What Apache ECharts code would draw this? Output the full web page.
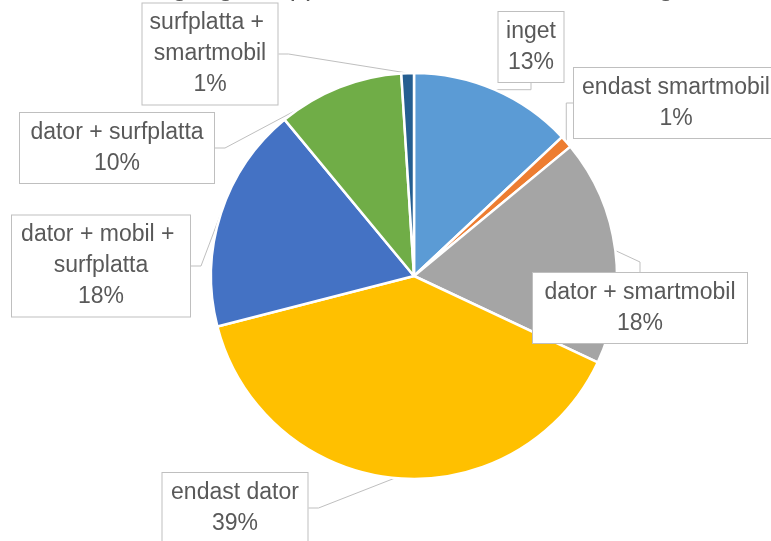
<!DOCTYPE html>
<html><head><meta charset="utf-8">
<script src="https://cdn.jsdelivr.net/npm/echarts@6/dist/echarts.min.js"></script>
<style>html,body{margin:0;padding:0;background:#fff}#c{width:771px;height:541px}</style>
</head><body><div id="c"></div>
<script>
const titleText = 'Tillgång till apparater för internetanvändning';
const categories = ['inget', 'endast smartmobil', 'dator + smartmobil', 'endast dator', 'dator + mobil + surfplatta', 'dator + surfplatta', 'surfplatta + smartmobil'];
const values = [13, 1, 18, 39, 18, 10, 1];
const colors = ['#5B9BD5', '#ED7D31', '#A5A5A5', '#FFC000', '#4472C4', '#70AD47', '#255E91'];
// label box placement (center) and inner text width
const labelCenters = [[531, 47], [676, 103], [640, 308], [235, 508], [101, 266], [117, 148], [210, 54]];
const labelWidths = [51, 190, 200, 131, 164, 180, 121];

const chart = echarts.init(document.getElementById('c'), null, {renderer: 'canvas'});
const data = categories.map((n, i) => ({
  name: n, value: values[i],
  itemStyle: {color: colors[i]},
  label: {width: labelWidths[i]}
}));
chart.setOption({
  animation: false,
  backgroundColor: '#fff',
  title: {
    text: titleText, left: 138, top: -27, padding: 0,
    textStyle: {fontFamily: 'Liberation Sans', fontSize: 27.5, fontWeight: 'normal', color: '#595959'}
  },
  series: [{
    type: 'pie',
    center: [414, 276],
    radius: 203,
    startAngle: 90,
    clockwise: true,
    avoidLabelOverlap: false,
    emphasis: {disabled: true},
    itemStyle: {borderColor: '#fff', borderWidth: 2.5},
    label: {
      show: true, position: 'outside',
      fontFamily: 'Liberation Sans', fontSize: 23, lineHeight: 31, color: '#595959',
      backgroundColor: '#fff', borderColor: '#BFBFBF', borderWidth: 1,
      padding: [4, 7], overflow: 'break', align: 'center',
      formatter: p => p.name + '\n' + Math.round(p.percent) + '%'
    },
    labelLine: {show: true, length: 10, length2: 10, lineStyle: {color: '#BFBFBF', width: 1}},
    labelLayout: function (params) {
      const c = labelCenters[params.dataIndex];
      return {x: c[0], y: c[1], align: 'center', verticalAlign: 'middle'};
    },
    data: data
  }]
});
</script></body></html>
